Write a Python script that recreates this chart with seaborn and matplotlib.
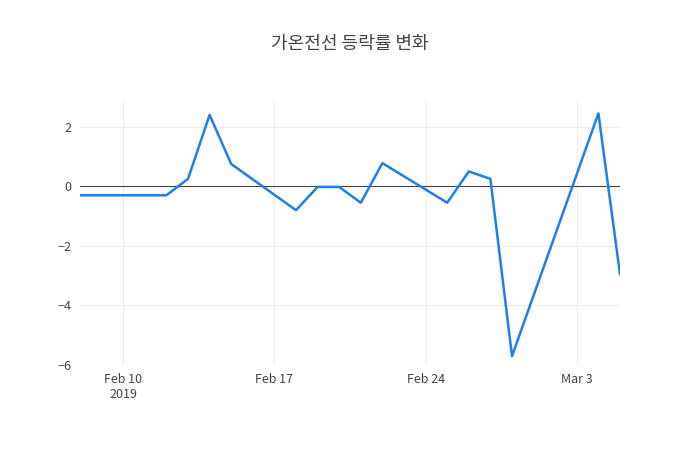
import matplotlib
matplotlib.use("Agg")
import matplotlib.pyplot as plt
import matplotlib.dates as mdates
import seaborn as sns
import pandas as pd

dates = ["2019-02-08","2019-02-11","2019-02-12","2019-02-13","2019-02-14","2019-02-15",
         "2019-02-18","2019-02-19","2019-02-20","2019-02-21","2019-02-22",
         "2019-02-25","2019-02-26","2019-02-27","2019-02-28","2019-03-04","2019-03-05"]
values = [-0.3,-0.3,-0.3,0.25,2.4,0.75,-0.8,-0.02,-0.02,-0.55,0.78,-0.55,0.5,0.25,-5.7,2.45,-2.95]
title = "가온전선 등락률 변화"

df = pd.DataFrame({"date": pd.to_datetime(dates), "value": values})

sns.set_style("white")
plt.rcParams['font.family'] = ['Noto Sans CJK KR', 'DejaVu Sans']

fig = plt.figure(figsize=(7, 4.5), dpi=100)
ax = fig.add_axes([80/700, 1-365/450, 540/700, 265/450])
sns.lineplot(data=df, x="date", y="value", ax=ax, color="#1f7fe8", linewidth=1.8)
ax.axhline(0, color="#444444", linewidth=0.8, zorder=1)
ax.set_xlim(pd.Timestamp("2019-02-08"), pd.Timestamp("2019-03-05"))
ax.set_ylim(-6, 2.9)
ax.set_yticks([-6, -4, -2, 0, 2])
ax.set_yticklabels(["−6", "−4", "−2", "0", "2"])
ticks = pd.to_datetime(["2019-02-10", "2019-02-17", "2019-02-24", "2019-03-03"])
ax.set_xticks(ticks)
ax.set_xticklabels(["Feb 10\n2019", "Feb 17", "Feb 24", "Mar 3"])
ax.grid(True, color="#eeeeee", linewidth=0.8)
ax.set_axisbelow(True)
for s in ax.spines.values():
    s.set_visible(False)
ax.tick_params(length=0, labelsize=9, colors="#444444", pad=6)
ax.set_xlabel("")
ax.set_ylabel("")
fig.text(0.5, 1-44/450, title, ha="center", va="center", fontsize=13, color="#444444")
fig.savefig("out.png", dpi=100)
